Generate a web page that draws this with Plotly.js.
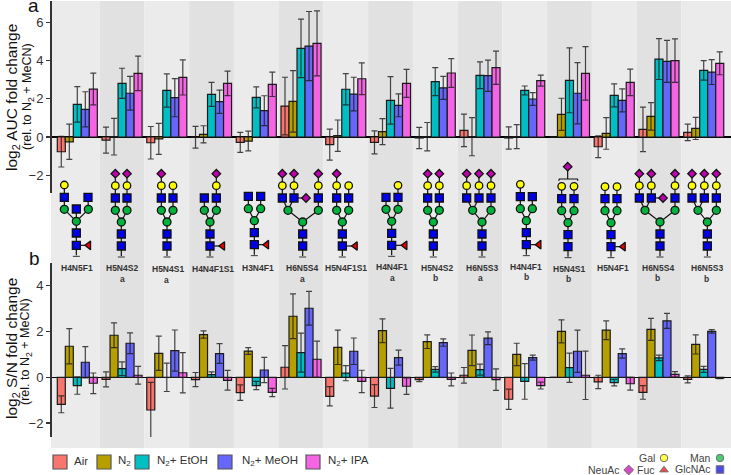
<!DOCTYPE html>
<html>
<head>
<meta charset="utf-8">
<script src="https://cdn.plot.ly/plotly-3.0.1.min.js"></script>
<style>html,body{margin:0;padding:0;background:#fff}#chart{width:731px;height:475px}</style>
</head>
<body>
<div id="chart"></div>
<script>
const glycanNames = ['H4N5F1','H5N4S2','H5N4S1','H4N4F1S1','H3N4F1','H6N5S4','H5N4F1S1','H4N4F1','H5N4S2','H6N5S3','H4N4F1','H5N4S1','H5N4F1','H6N5S4','H6N5S3'];
const glycanTags = ['','a','a','','','a','','a','b','a','b','b','','b','b'];
const seriesNames = ['Air','N<sub>2</sub>','N<sub>2</sub>+ EtOH','N<sub>2</sub>+ MeOH','N<sub>2</sub>+ IPA'];
const seriesColors = ['#f8766d','#b79f00','#00bfc4','#6666fa','#f564e3'];
const positions = glycanNames.map((_, i) => i);

// panel a, log2 AUC fold change
const aucAir = [-0.77,-0.16,-0.3,-0.01,-0.28,1.62,-0.4,-0.28,-0.05,0.35,-0.05,0,-0.51,0.4,0.24];
const aucAirErr = [0.8,0.68,0.85,0.57,0.52,1.51,0.81,0.6,0.56,0.85,0.58,0,0.57,1.16,0.43];
const aucN2 = [-0.25,0.02,-0.1,0.14,-0.21,1.87,0.07,0.28,0.02,0.02,0.02,1.19,0.19,1.08,0.45];
const aucN2Err = [0.92,0.96,0.81,0.45,0.52,1.61,0.82,0.68,0.74,1.0,0.63,0.84,0.83,0.72,0.58];
const aucEtOH = [1.71,2.81,2.44,2.23,2.08,4.64,2.5,1.92,2.9,3.23,2.44,2.97,2.18,4.08,3.49];
const aucEtOHErr = [0.93,0.79,0.87,0.63,0.55,1.53,0.82,1.24,0.73,0.7,0.23,1.7,0.6,1.07,0.51];
const aucMeOH = [1.45,2.29,2.06,1.85,1.38,4.76,2.25,1.66,2.57,3.21,1.99,2.29,1.92,3.96,3.4];
const aucMeOHErr = [0.92,0.88,1.0,0.61,0.78,1.81,0.88,0.6,0.6,0.82,0.33,1.6,0.6,1.1,0.65];
const aucIPA = [2.51,3.33,3.12,2.81,2.76,4.9,3.05,2.81,3.35,3.63,2.95,3.33,2.86,4.0,3.86];
const aucIPAErr = [0.83,0.9,0.92,0.64,0.64,1.7,0.83,0.73,0.75,0.87,0.29,1.4,0.69,1.14,0.6];

// panel b, log2 S/N fold change
const snAir = [-1.18,-0.09,-1.43,-0.1,-0.67,0.44,-0.83,-0.82,-0.1,0.09,-0.96,0,-0.2,-0.66,-0.09];
const snAirErr = [0.37,0.33,1.21,0.31,0.34,0.95,0.42,0.5,0.09,0.34,0.44,0,0.29,0.3,0.15];
const snN2 = [1.36,1.84,1.05,1.87,1.15,2.67,1.31,2.04,1.56,1.18,1.0,2.01,2.06,2.1,1.44];
const snN2Err = [0.77,0.54,0.75,0.16,0.15,0.98,0.75,0.52,0.3,0.67,0.49,0.5,0.41,0.48,0.42];
const snEtOH = [-0.36,0.38,0.0,0.12,-0.36,1.08,0.18,-0.48,0.35,0.34,-0.18,0.42,-0.23,0.85,0.35];
const snEtOHErr = [0.38,0.3,0.62,0.12,0.18,0.85,0.33,0.87,0.12,0.24,0.78,0.64,0.14,0.12,0.13];
const snMeOH = [0.66,1.49,1.17,1.04,0.32,3.02,1.14,0.86,1.52,1.71,0.86,1.14,1.04,2.47,2.01];
const snMeOHErr = [0.68,0.45,0.9,0.43,0.55,0.74,0.58,0.33,0.16,0.28,0.11,0.92,0.2,0.33,0.08];
const snIPA = [-0.26,0.09,0.2,-0.13,-0.66,0.79,-0.18,-0.39,-0.09,-0.1,-0.36,0.09,-0.28,0.13,-0.04];
const snIPAErr = [0.45,0.39,0.88,0.43,0.18,0.79,0.49,0.36,0.28,0.47,0.15,1.06,0.28,0.12,0.02];

const aucValues = [aucAir, aucN2, aucEtOH, aucMeOH, aucIPA];
const aucErrors = [aucAirErr, aucN2Err, aucEtOHErr, aucMeOHErr, aucIPAErr];
const snValues = [snAir, snN2, snEtOH, snMeOH, snIPA];
const snErrors = [snAirErr, snN2Err, snEtOHErr, snMeOHErr, snIPAErr];

const W = 731, H = 475;
const textFont = 'Liberation Sans, Arial, sans-serif';

function barTraces(values, errors, xa, ya) {
  return values.map((v, s) => ({
    type: 'bar', x: positions, y: v, xaxis: xa, yaxis: ya, name: seriesNames[s],
    marker: { color: seriesColors[s], line: { color: '#1a1a1a', width: 1.2 } },
    error_y: { type: 'data', array: errors[s], visible: true, color: 'rgba(25,25,25,0.8)', thickness: 1.2, width: 3 },
    showlegend: false
  }));
}

// glycan cartoons: [type, x, y, parent index], first node is the reducing end.
// coordinates are in 3x page pixels, dx shifts the right half of the row
const coreL = (x, y) => [['N',x,y+36,-1],['N',x,y,0],['M',x,y-36,1]];
const glycans = [
  {dx:0, nodes:[['N',229,286,-1],['N',229,249,0],['M',229,214,1],['N',229,177,2],['M',193,178,2],['M',265,178,2],['N',193,142,4],['N',264,142,5],['G',193,105,6],['F',266,286,0]]},
  {dx:0, nodes:[...coreL(364,252),['M',346,181,2],['M',381,181,2],['N',346,144,3],['N',381,144,4],['G',346,107,5],['G',381,107,6],['S',346,71,7],['S',381,71,8]]},
  {dx:0, nodes:[...coreL(501,252),['M',484,181,2],['M',519,181,2],['N',484,144,3],['N',519,144,4],['G',484,107,5],['G',519,107,6],['S',484,71,7]]},
  {dx:0, nodes:[...coreL(630,252),['M',613,181,2],['M',649,181,2],['N',613,144,3],['N',649,144,4],['G',649,107,6],['S',649,71,7],['F',668,288,0]]},
  {dx:0, nodes:[...coreL(763,248),['M',745,176,2],['M',782,176,2],['N',745,139,3],['N',782,139,4],['F',800,284,0]]},
  {dx:0, nodes:[...coreL(908,252),['M',864,181,2],['M',955,181,2],['N',847,144,3],['N',882,144,3],['N',955,144,4],['G',847,107,5],['G',882,107,6],['G',955,107,7],['S',847,71,8],['S',882,71,9],['S',955,71,10],['S',918,144,6]]},
  {dx:0, nodes:[...coreL(1027,252),['M',1010,181,2],['M',1046,181,2],['N',1010,144,3],['N',1046,144,4],['G',1010,107,5],['G',1046,107,6],['S',1010,71,7],['F',1066,288,0]]},
  {dx:360, nodes:[...coreL(95,250),['M',78,178,2],['M',114,178,2],['N',78,142,3],['N',114,142,4],['G',114,106,6],['F',135,286,0]]},
  {dx:360, nodes:[...coreL(220,252),['M',203,181,2],['M',238,181,2],['N',203,144,3],['N',238,144,4],['G',203,107,5],['G',238,107,6],['S',203,71,7],['S',238,71,8]]},
  {dx:360, nodes:[...coreL(366,252),['M',338,181,2],['M',393,181,2],['N',320,144,3],['N',357,144,3],['N',393,144,4],['G',320,107,5],['G',357,107,6],['G',393,107,7],['S',320,71,8],['S',357,71,9],['S',393,71,10]]},
  {dx:360, nodes:[...coreL(499,248),['M',481,176,2],['M',517,176,2],['N',481,140,3],['N',517,140,4],['G',481,103,5],['F',537,284,0]]},
  {dx:360, extra:[[[596,92],[598,87],[652,87],[654,92]],[[623,50],[623,87]]], nodes:[...coreL(624,254),['M',605,182,2],['M',642,182,2],['N',605,146,3],['N',642,146,4],['G',605,109,5],['G',642,109,6],['S',623,50,-1]]},
  {dx:360, nodes:[...coreL(753,254),['M',735,182,2],['M',771,182,2],['N',735,146,3],['N',771,146,4],['G',735,110,5],['G',771,110,6],['F',790,290,0]]},
  {dx:360, nodes:[...coreL(900,252),['M',855,181,2],['M',945,181,2],['N',838,144,3],['N',874,144,3],['N',945,144,4],['G',838,107,5],['G',874,107,6],['G',945,107,7],['S',838,71,8],['S',874,71,9],['S',945,71,10],['S',909,144,6]]},
  {dx:360, nodes:[...coreL(1042,252),['M',1014,181,2],['M',1069,181,2],['N',996,144,3],['N',1033,144,3],['N',1069,144,4],['G',996,107,5],['G',1033,107,6],['G',1069,107,7],['S',996,71,8],['S',1033,71,9],['S',1069,71,10]]}
];
// label positions under each cartoon, 3x coords again
const nameSpots = [[232,354],[366,354],[505,358],[639,356],[774,354],[907,354],[1037,355],[95,352],[232,354],[366,354],[497,350],[628,356],[760,354],[893,354],[1040,354]];
const tagSpots = [null,[366,386],[500,390],null,null,[907,387],null,[97,385],[227,385],[360,385],[500,381],[624,387],null,[893,385],[1040,387]];

const style = {
  N: { symbol: 'square', color: '#0000e6', size: 8 },
  M: { symbol: 'circle', color: '#00b33c', size: 8 },
  G: { symbol: 'circle', color: '#ffff00', size: 7.5 },
  S: { symbol: 'diamond', color: '#c000b0', size: 6.5 },
  F: { symbol: 'triangle-left', color: '#ee0000', size: 7.5 }
};
const px = (zx, dx) => zx / 3 + dx;
const py = zy => zy / 3 + 150;

const lineX = [], lineY = [];
const nodeGroups = { N: {x:[],y:[]}, M: {x:[],y:[]}, G: {x:[],y:[]}, S: {x:[],y:[]}, F: {x:[],y:[]} };
const ends = { x: [], y: [] };
glycans.forEach(g => {
  g.nodes.forEach((n, i) => {
    const x = px(n[1], g.dx), y = py(n[2]);
    nodeGroups[n[0]].x.push(x);
    nodeGroups[n[0]].y.push(y);
    if (n[3] >= 0) {
      const p = g.nodes[n[3]];
      lineX.push(px(p[1], g.dx), x, null);
      lineY.push(py(p[2]), y, null);
    }
    if (i === 0) {
      lineX.push(x, x, null);
      lineY.push(y, y + 10, null);
      ends.x.push(x);
      ends.y.push(y + 11);
    }
  });
  (g.extra || []).forEach(path => {
    path.forEach(pt => { lineX.push(px(pt[0], g.dx)); lineY.push(py(pt[1])); });
    lineX.push(null); lineY.push(null);
  });
});

const overlay = { xaxis: 'x3', yaxis: 'y3', showlegend: false, cliponaxis: false, hoverinfo: 'skip' };
const glycanTraces = [
  { ...overlay, type: 'scatter', mode: 'lines', x: lineX, y: lineY, line: { color: '#111', width: 1.2 } },
  { ...overlay, type: 'scatter', mode: 'markers', x: ends.x, y: ends.y,
    marker: { symbol: 'line-ew', size: 5, line: { color: '#333', width: 1 } } }
];
Object.keys(nodeGroups).forEach(k => {
  glycanTraces.push({ ...overlay, type: 'scatter', mode: 'markers', x: nodeGroups[k].x, y: nodeGroups[k].y,
    marker: { symbol: style[k].symbol, color: style[k].color, size: style[k].size, line: { color: '#111', width: 1.3 } } });
});

// legends along the bottom
const legendSwatchX = [60, 104, 142, 225, 313];
const legendTextX = [72, 116, 155, 240, 326];
const keyNames = ['Gal','Man','NeuAc','Fuc','GlcNAc'];
const keyKinds = ['G','M','S','F','N'];
const keyX = [664, 720, 628.7, 664, 720];
const keyY = [458, 458, 470, 470, 469.5];

const legendTraces = [
  { ...overlay, type: 'scatter', mode: 'markers', x: legendSwatchX, y: legendSwatchX.map(() => 462),
    marker: { symbol: 'square', size: 14, color: seriesColors, line: { color: '#555', width: 1.2 } } },
  { ...overlay, type: 'scatter', mode: 'markers', x: keyX, y: keyY,
    marker: { symbol: keyKinds.map(k => k === 'F' ? 'triangle-up' : style[k].symbol),
      size: keyKinds.map(k => k === 'S' ? 7.5 : 7.5),
      color: keyKinds.map(k => style[k].color), line: { color: '#333', width: 1 } } }
];

const note = (text, x, y, opts) => Object.assign({
  text, x, y, xref: 'x3', yref: 'y3', showarrow: false, xanchor: 'center', yanchor: 'middle',
  font: { family: textFont, size: 13, color: '#222' }
}, opts || {});

const annotations = [];
glycanNames.forEach((name, i) => {
  const dx = glycans[i].dx;
  annotations.push(note('<b>' + name + '</b>', px(nameSpots[i][0], dx), py(nameSpots[i][1]), { font: { family: textFont, size: 8.5, color: '#333' } }));
  if (tagSpots[i]) annotations.push(note('<b>' + glycanTags[i] + '</b>', px(tagSpots[i][0], dx), py(tagSpots[i][1]), { font: { family: textFont, size: 8.5, color: '#333' } }));
});
seriesNames.forEach((name, i) => {
  annotations.push(note(name, legendTextX[i], 461, { xanchor: 'left', font: { family: textFont, size: 11.5, color: '#333' } }));
});
keyNames.forEach((name, i) => {
  annotations.push(note(name, keyX[i] - 7, keyY[i] - 0.5, { xanchor: 'right', font: { family: textFont, size: 10.5, color: '#444' } }));
});
annotations.push(
  note('a', 33, 5, { font: { family: textFont, size: 19, color: '#111' } }),
  note('b', 34, 258, { font: { family: textFont, size: 19, color: '#111' } }),
  note('log<sub>2</sub> AUC fold change', 12, 98, { textangle: -90, font: { family: textFont, size: 15.5, color: '#111' } }),
  note('(rel. to N<sub>2</sub> + MeCN)', 28, 97, { textangle: -90, font: { family: textFont, size: 12.5, color: '#111' } }),
  note('log<sub>2</sub> S/N fold change', 12, 349, { textangle: -90, font: { family: textFont, size: 15.5, color: '#111' } }),
  note('(rel. to N<sub>2</sub> + MeCN)', 26, 352, { textangle: -90, font: { family: textFont, size: 12.5, color: '#111' } })
);

// alternating grey bands behind both panels
const xMin = -0.588, xMax = 14.61;
const shapes = positions.map(i => ({
  type: 'rect', xref: 'x', yref: 'paper', layer: 'below',
  x0: i === 0 ? xMin : i - 0.5, x1: i === positions.length - 1 ? xMax : i + 0.5,
  y0: 1 - 448 / H, y1: 1 - 1 / H,
  fillcolor: i % 2 ? '#e1e1e1' : '#ebebeb', line: { width: 0 }
}));

const valueAxis = {
  showgrid: false, zeroline: true, zerolinecolor: '#000', zerolinewidth: 1.5,
  showline: true, linecolor: '#333', linewidth: 2, ticks: 'outside', ticklen: 4, tickwidth: 1.2, tickcolor: '#333',
  tickvals: [-2, 0, 2, 4, 6], tickfont: { family: textFont, size: 13, color: '#333' }, fixedrange: true
};
const posAxis = { domain: [51 / W, 1], range: [xMin, xMax], showgrid: false, zeroline: false, showticklabels: false, ticks: '', fixedrange: true };

const layout = {
  width: W, height: H,
  margin: { l: 0, r: 0, t: 0, b: 0 },
  paper_bgcolor: '#fff', plot_bgcolor: 'rgba(0,0,0,0)',
  barmode: 'group', bargap: 0.105, bargroupgap: 0,
  hovermode: false, showlegend: false,
  xaxis: { ...posAxis, anchor: 'y' },
  yaxis: { ...valueAxis, anchor: 'free', position: 51 / W, domain: [1 - 193 / H, 1 - 1 / H], range: [-2.93, 7.12] },
  xaxis2: { ...posAxis, anchor: 'y2' },
  yaxis2: { ...valueAxis, tickvals: [-2, 0, 2, 4], anchor: 'free', position: 51 / W, domain: [1 - 437 / H, 1 - 263 / H], range: [-2.61, 5.0] },
  xaxis3: { domain: [0, 1], range: [0, W], visible: false, anchor: 'y3', fixedrange: true },
  yaxis3: { domain: [0, 1], range: [H, 0], visible: false, anchor: 'x3', fixedrange: true },
  shapes, annotations
};

const traces = [
  ...barTraces(aucValues, aucErrors, 'x', 'y'),
  ...barTraces(snValues, snErrors, 'x2', 'y2'),
  ...glycanTraces,
  ...legendTraces
];

Plotly.newPlot('chart', traces, layout, { displayModeBar: false, staticPlot: true });
</script>
</body>
</html>
